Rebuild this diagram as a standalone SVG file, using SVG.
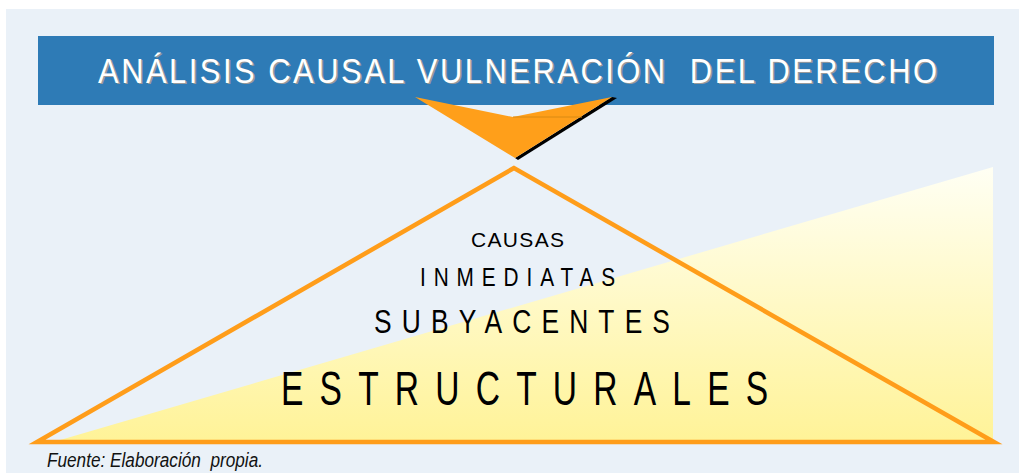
<svg xmlns="http://www.w3.org/2000/svg" width="1019" height="473" viewBox="0 0 1019 473">
  <defs>
    <linearGradient id="wedgeGrad" gradientUnits="userSpaceOnUse" x1="0" y1="167" x2="0" y2="443">
      <stop offset="0" stop-color="#fffff4"/>
      <stop offset="1" stop-color="#fff397"/>
    </linearGradient>
    <style>
      .title { font-family: "Liberation Sans", Arial, sans-serif; font-size: 36px; }
      .lvl { font-family: "Liberation Sans", Arial, sans-serif; fill: #000000; }
      .src { font-family: "Liberation Sans", Arial, sans-serif; font-style: italic; font-size: 20px; fill: #111111; }
    </style>
  </defs>

  <rect x="0" y="0" width="1019" height="473" fill="#ffffff"/>
  <rect x="6" y="9" width="1013" height="464" fill="#eaf1f8"/>

  <g id="wedge">
    <polygon points="50,443 993,167 993,443" fill="url(#wedgeGrad)"/>
  </g>

  <g id="title">
    <rect x="38" y="36" width="956" height="69" fill="#2e7bb6"/>
    <g transform="scale(0.86,1)">
      <text class="title" x="115.7" y="84.5" fill="#9a9a9a" textLength="975.6" lengthAdjust="spacing" xml:space="preserve">ANÁLISIS CAUSAL VULNERACIÓN  DEL DERECHO</text>
      <text class="title" x="114" y="83" fill="#ffffff" textLength="975.6" lengthAdjust="spacing" xml:space="preserve">ANÁLISIS CAUSAL VULNERACIÓN  DEL DERECHO</text>
    </g>
  </g>

  <g id="connectors">
    <polygon points="612,97 617,98 518,160 515,158" fill="#000000"/>
    <polygon points="415,97 513,117 612,97 515,158" fill="#ff9f1a"/>
    <line x1="513" y1="117" x2="582" y2="117" stroke="#d98a12" stroke-width="1"/>
  </g>

  <g id="pyramid">
    <polygon points="514,168 37,442 994,442" fill="none" stroke="#ff9d1a" stroke-width="4.5" stroke-linejoin="miter"/>
  </g>

  <g id="levels">
    <text class="lvl" x="471" y="247" font-size="21" textLength="93" lengthAdjust="spacing">CAUSAS</text>
    <text class="lvl" transform="scale(0.8,1)" x="525" y="286" font-size="26" textLength="244" lengthAdjust="spacing">INMEDIATAS</text>
    <text class="lvl" transform="scale(0.8,1)" x="467.5" y="333" font-size="33" textLength="370" lengthAdjust="spacing">SUBYACENTES</text>
    <text class="lvl" transform="scale(0.7,1)" x="401.4" y="405" font-size="48" textLength="696" lengthAdjust="spacing">ESTRUCTURALES</text>
  </g>

  <g id="source">
    <text class="src" x="47" y="467" textLength="216" lengthAdjust="spacingAndGlyphs" xml:space="preserve">Fuente: Elaboración  propia.</text>
  </g>
</svg>
